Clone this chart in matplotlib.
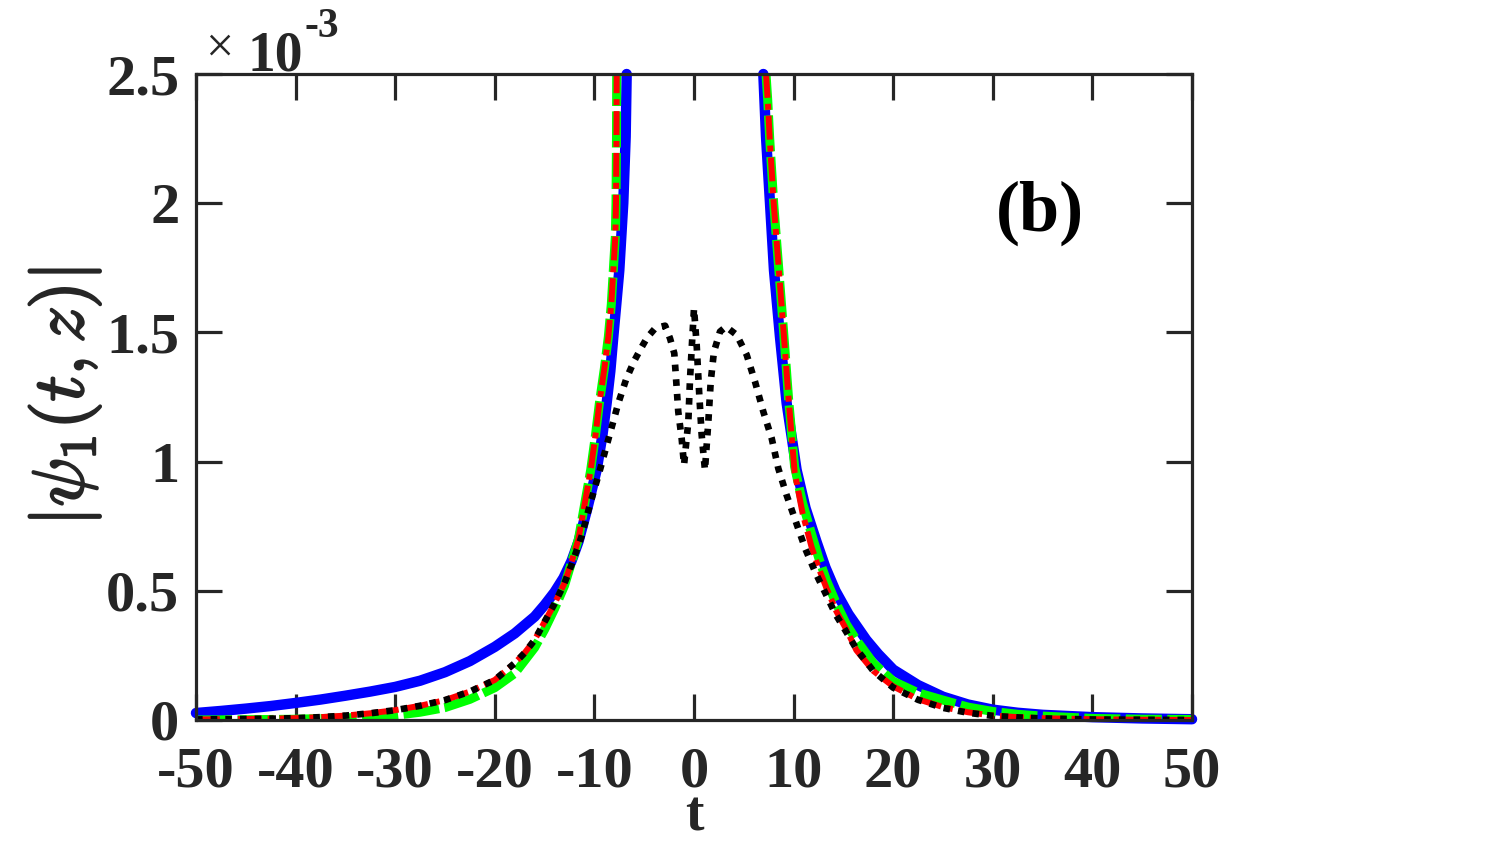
import numpy as np
import matplotlib
matplotlib.use('Agg')
import matplotlib.pyplot as plt
import matplotlib.patheffects as pe

plt.rcParams['font.family'] = 'Liberation Serif'
plt.rcParams['font.weight'] = 'bold'
plt.rcParams['mathtext.fontset'] = 'cm'

# values, |psi_1| in units of 1e-3
# each series is drawn as a left branch and a right branch (it leaves the top of the axes)
tBlueL = [-50, -47.5, -45, -42.5, -40, -37.5, -35, -32.5, -30, -27.5, -25, -22.5, -20, -18, -16, -15, -14,
          -13.1, -12.3, -11.6, -10.7, -9.77, -9.2, -8.77, -8.4, -8.1, -7.8, -7.5, -7.3, -7.1, -6.86, -6.76]
vBlueL = [0.027, 0.035, 0.044, 0.054, 0.066, 0.079, 0.094, 0.11, 0.128, 0.152, 0.185, 0.228, 0.283, 0.335, 0.4, 0.445, 0.495,
          0.55, 0.615, 0.69, 0.82, 0.968, 1.1, 1.226, 1.35, 1.483, 1.61, 1.74, 1.87, 2.0, 2.257, 2.5]
tBlueR = [6.96, 7.23, 7.63, 8.03, 8.63, 9.3, 10.3, 11.2, 12.3, 13.2, 14.2, 15.5, 17.3, 18.5, 20, 22.5, 25,
          27.5, 30, 32.5, 35, 40, 45, 50]
vBlueR = [2.5, 2.257, 2.0, 1.74, 1.483, 1.226, 0.968, 0.82, 0.69, 0.59, 0.5, 0.41, 0.31, 0.255, 0.195, 0.135, 0.09,
          0.06, 0.04, 0.028, 0.02, 0.011, 0.006, 0.003]

tGreenL = [-50, -45, -40, -35, -32.5, -30, -27.5, -25, -22.5, -20, -18, -16, -15, -14, -13, -12.3, -11.6, -11,
           -10.37, -9.9, -9.5, -9, -8.6, -8.3, -8.1, -7.9, -7.83, -7.78, -7.76]
vGreenL = [0.0, 0.001, 0.003, 0.008, 0.012, 0.018, 0.03, 0.048, 0.08, 0.125, 0.18, 0.28, 0.35, 0.43, 0.52, 0.61, 0.7, 0.83,
           0.968, 1.1, 1.226, 1.36, 1.483, 1.61, 1.74, 1.87, 2.0, 2.257, 2.5]
tGreenR = [7.23, 7.4, 7.6, 8.0, 8.5, 9.0, 9.5, 10.1, 10.9, 11.8, 12.5, 13.3, 14.3, 15.3, 16.3, 18, 20, 22.5,
           25, 27.5, 30, 32.5, 35, 40, 45, 50]
vGreenR = [2.5, 2.4, 2.25, 2.0, 1.75, 1.5, 1.24, 0.98, 0.84, 0.72, 0.63, 0.54, 0.45, 0.37, 0.31, 0.22, 0.15, 0.105,
           0.077, 0.05, 0.033, 0.022, 0.015, 0.006, 0.003, 0.002]

tRedL = [-50, -47.5, -45, -42.5, -40, -37.5, -35, -32.5, -30, -27.5, -25, -22.5, -20, -18, -17, -16, -15, -14, -13,
         -12.3, -11.6, -11, -10.37, -9.9, -9.5, -9, -8.6, -8.3, -8.1, -7.9, -7.83, -7.78, -7.76]
vRedL = [0.002, 0.003, 0.004, 0.005, 0.007, 0.011, 0.017, 0.026, 0.038, 0.055, 0.077, 0.11, 0.155, 0.22, 0.26, 0.31, 0.38, 0.45, 0.53,
         0.61, 0.7, 0.83, 0.968, 1.1, 1.226, 1.36, 1.483, 1.61, 1.74, 1.87, 2.0, 2.257, 2.5]
tRedR = [7.23, 7.4, 7.6, 8.0, 8.5, 9.0, 9.5, 10.1, 10.9, 11.8, 12.5, 13.3, 14.3, 15.3, 16.3, 18, 20, 22.5,
         25, 27.5, 30, 32.5, 35, 40, 45, 50]
vRedR = [2.5, 2.4, 2.25, 2.0, 1.75, 1.5, 1.24, 0.96, 0.8, 0.67, 0.59, 0.51, 0.42, 0.35, 0.27, 0.19, 0.13, 0.08,
         0.05, 0.03, 0.017, 0.011, 0.007, 0.003, 0.001, 0.0]

tBlack = [-50, -47.5, -45, -42.5, -40, -37.5, -35, -32.5, -30, -27.5, -25, -22.5, -20, -18, -17, -16, -15, -14, -13,
          -12.3, -11.3, -10.4, -9.44, -8.5, -7.6, -6.8, -6.0, -5.3, -4.7, -3.9, -2.9, -2.41, -1.98, -1.8, -1.58, -1.24, -1.0,
          -0.57, -0.4, -0.17, 0.0, 0.27, 0.53, 0.77, 1.1, 1.44, 1.68, 2.0, 2.61, 3.21, 4.29, 5.29, 6.12, 6.96, 7.8, 8.46,
          9.3, 10.2, 11.2, 12.2, 13.2, 14.2, 15.3, 16.3, 18, 20, 22.5, 25, 27.5, 30, 32.5, 35, 40, 45, 50]
vBlack = [0.002, 0.003, 0.004, 0.005, 0.007, 0.011, 0.017, 0.026, 0.038, 0.055, 0.077, 0.11, 0.155, 0.22, 0.26, 0.31, 0.38, 0.45, 0.53,
          0.6, 0.709, 0.84, 0.968, 1.1, 1.226, 1.32, 1.39, 1.44, 1.48, 1.516, 1.526, 1.477, 1.419, 1.32, 1.193, 1.09, 0.987,
          1.155, 1.32, 1.48, 1.593, 1.45, 1.258, 1.103, 0.967, 1.155, 1.31, 1.425, 1.503, 1.522, 1.49, 1.413, 1.31, 1.193, 1.09, 0.974,
          0.87, 0.77, 0.66, 0.57, 0.49, 0.41, 0.34, 0.275, 0.19, 0.125, 0.078, 0.047, 0.028, 0.016, 0.01, 0.006, 0.002, 0.001, 0.0]

xTicks = [-50, -40, -30, -20, -10, 0, 10, 20, 30, 40, 50]
yTicks = [0, 0.5, 1, 1.5, 2, 2.5]
yTickLabels = ['0', '0.5', '1', '1.5', '2', '2.5']
axCol = '#262626'

fig = plt.figure(figsize=(15.11, 8.42), dpi=100, facecolor='w')
ax = fig.add_axes([0.1297, 0.1449, 0.6592, 0.7672])

for tt, vv in [(tBlueL, vBlueL), (tBlueR, vBlueR)]:
    ax.plot(tt, vv, '-', color='#0000ff', linewidth=7.5, solid_capstyle='round',
            solid_joinstyle='round', clip_on=False)
for tt, vv in [(tGreenL, vGreenL), (tGreenR, vGreenR)]:
    ax.plot(tt, vv, '--', color='#00ff00', linewidth=6.5, dashes=(4, 0.6))
for tt, vv in [(tRedL, vRedL), (tRedR, vRedR)]:
    ax.plot(tt, vv, '-.', color='#ff0000', linewidth=4.3, dashes=(4, 1, 1, 1))
ax.plot(tBlack, vBlack, ':', color='k', linewidth=4.8, dashes=(1, 1.2))

ax.set_xlim(-50, 50)
ax.set_ylim(0, 2.5)
ax.set_xticks(xTicks)
ax.set_yticks(yTicks)
ax.set_xticklabels([str(x) for x in xTicks])
ax.set_yticklabels(yTickLabels)
for s in ['top', 'bottom', 'left', 'right']:
    ax.spines[s].set_linewidth(2.3)
    ax.spines[s].set_color(axCol)
ax.tick_params(direction='in', length=19, width=2.3, color=axCol, top=True, right=True,
               labelsize=42, labelcolor=axCol)
ax.tick_params(axis='x', pad=19)
ax.tick_params(axis='y', pad=12)

ax.set_xlabel('t', fontsize=40, fontweight='bold', color=axCol, labelpad=-6)
yl = ax.set_ylabel(r'$|\psi_1(t,z)|$', fontsize=52, fontweight='normal', color=axCol, labelpad=2)
yl.set_path_effects([pe.withStroke(linewidth=1.6, foreground=axCol)])

ax.text(0.847, 0.785, '(b)', transform=ax.transAxes, fontsize=52, fontweight='bold',
        color='k', ha='center', va='center')

fig.text(0.145, 0.9418, '\u00d7', fontsize=36, fontweight='normal', color=axCol, ha='center', va='center')
fig.text(0.1641, 0.9157, '10', fontsize=40, fontweight='bold', color=axCol, ha='left', va='baseline')
fig.text(0.2015, 0.956, '-3', fontsize=30, fontweight='bold', color=axCol, ha='left', va='baseline')

fig.savefig('out.png', dpi=100, facecolor='w')
